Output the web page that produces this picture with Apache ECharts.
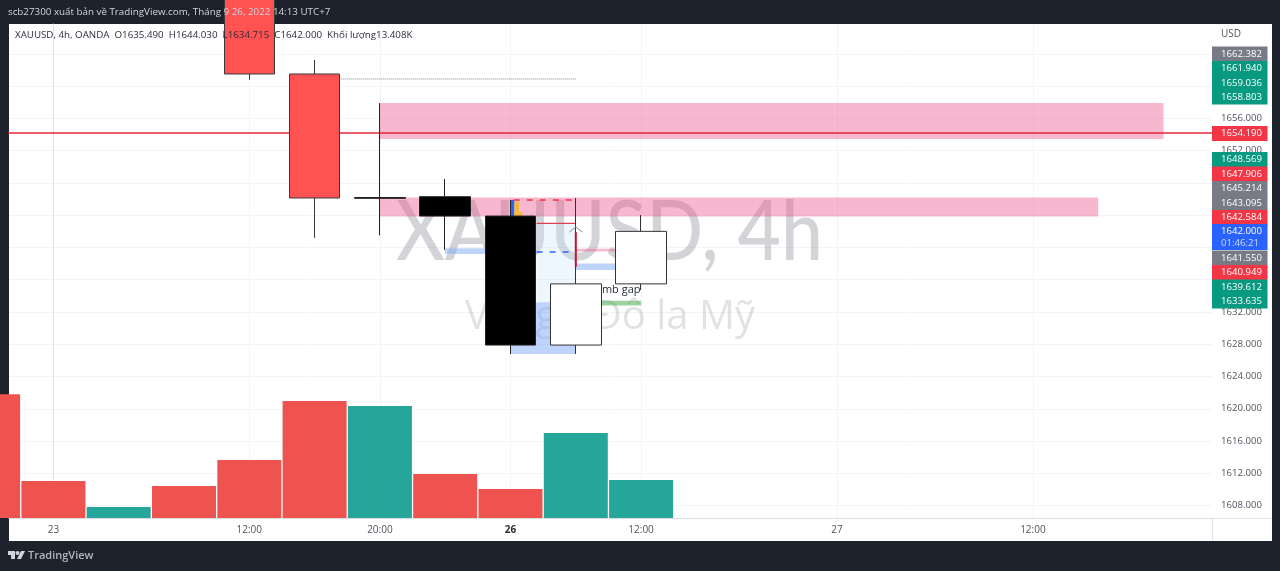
<!DOCTYPE html>
<html><head><meta charset="utf-8">
<style>html,body{margin:0;padding:0;background:#1e222d;overflow:hidden}
#panel{position:absolute;left:9px;top:24px;width:1263px;height:517px;background:#fff}
#c{position:absolute;left:0;top:0;width:1280px;height:571px}</style>
<script src="https://cdn.jsdelivr.net/npm/echarts@6/dist/echarts.min.js"></script>
</head><body><div id="panel"></div><div id="c"></div>
<script>
// ---- data ----
const barIndex = [3, 4, 5, 6, 7, 8, 9];
const opens  = [1672.0, 1661.52, 1646.2, 1646.3, 1643.9, 1627.9, 1635.49];
const closes = [1661.52, 1646.14, 1646.1, 1643.9, 1627.9, 1635.49, 1642.0];
const lows   = [1660.8, 1641.18, 1641.5, 1639.7, 1626.8, 1626.8, 1634.715];
const highs  = [1673.0, 1663.26, 1657.9, 1648.5, 1645.9, 1646.14, 1644.03];
const volumeIndex = [-1, 0, 1, 2, 3, 4, 5, 6, 7, 8, 9];
const volumes = [43.7, 13.05, 3.9, 11.3, 20.5, 41.3, 39.5, 15.5, 10.2, 30.0, 13.408];
const volumeRising = [false, false, true, false, false, false, true, false, false, true, true];
const priceTicks = [1608, 1612, 1616, 1620, 1624, 1628, 1632, 1636, 1640, 1644, 1648, 1652, 1656, 1660, 1664];
const timeTickIndex = [0, 3, 5, 7, 9, 12, 15];
const timeTickLabels = ['23', '12:00', '20:00', '26', '12:00', '27', '12:00'];
const zoneStart = [5, 5, 6, 7.4, 7, 8, 8, 8.38, 7, 7.06, 7.06];
const zoneEnd   = [17, 16, 7, 8, 8, 8.6, 8.6, 9, 7.06, 7.13, 7.18];
const zoneTop   = [1657.92, 1646.2, 1639.9, 1643.0, 1633.2, 1639.85, 1638.0, 1633.4, 1645.9, 1645.7, 1644.4];
const zoneBottom= [1653.46, 1643.85, 1639.2, 1633.2, 1626.8, 1639.5, 1637.2, 1632.8, 1643.9, 1643.9, 1643.9];
const zoneKind  = ['pink', 'pink', 'blue', 'pale', 'blue', 'pink', 'blue', 'green', 'solidBlue', 'orange', 'orange'];
const lastPrice = 1654.19;
const tagTexts = ['1662.382','1661.940','1659.036','1658.803','1654.190','1648.569','1647.906','1645.214','1643.095','1642.584','1642.000','1641.550','1640.949','1639.612','1633.635'];
const tagKinds = ['gray','green','green','green','red','green','red','gray','gray','red','blue','gray','red','green','green'];
const countdownText = '01:46:21';
const legendText = 'XAUUSD, 4h, OANDA  O1635.490  H1644.030  L1634.715  C1642.000  Khối lượng13.408K';
const headerText = 'scb27300 xuất bản về TradingView.com, Tháng 9 26, 2022 14:13 UTC+7';

// ---- layout and style ----
const tagRowY = [54, 68.5, 83, 97, 133.5, 159.5, 174, 188.5, 203, 217.5, 231.5, 258, 272.5, 287, 301];
const font = '"Open Sans", "Noto Sans", sans-serif';
const palette = {pink:'rgba(235,77,135,0.4)', blue:'rgba(120,165,245,0.48)', pale:'rgba(200,228,248,0.3)', green:'rgba(76,175,80,0.55)', orange:'#f5b93a', solidBlue:'#2962FF',
  gray:'#787B86', red:'#F23645', tagGreen:'#089981', tagBlue:'#2962FF'};
const tagColor = {gray:palette.gray, green:palette.tagGreen, red:palette.red, blue:palette.tagBlue};

const chart = echarts.init(document.getElementById('c'), null, {renderer:'canvas'});
const candleRow = i => [barIndex[i], opens[i], closes[i], lows[i], highs[i]];
const allRows = barIndex.map((_, i) => candleRow(i));

const zoneData = zoneStart.map((s, i) => [s, zoneEnd[i], zoneTop[i], zoneBottom[i], i]);
function renderZone(params, api) {
  const a = api.coord([api.value(0), api.value(2)]);
  const b = api.coord([api.value(1), api.value(3)]);
  const kind = zoneKind[api.value(4)];
  return {type:'rect', shape:{x:a[0], y:a[1], width:b[0]-a[0], height:b[1]-a[1]}, style:{fill:palette[kind]}};
}
function thinLine(name, pts, color, width, type, z) {
  return {type:'line', name, data:pts, symbol:'none', z, silent:true, animation:false,
    lineStyle:{color, width, type}, clip:true};
}
const graphicEls = [
  {type:'text', z:1, silent:true, originX:609.5, originY:233, scaleY:1.12,
   style:{x:609.5, y:233, text:'XAUUSD, 4h', font:'500 75px Lato, '+font, fill:'rgba(120,123,134,0.33)', textAlign:'center', textVerticalAlign:'middle'}},
  {type:'text', z:1, silent:true, style:{x:610, y:318, text:'Vàng / Đô la Mỹ', font:'40px '+font, fill:'rgba(120,123,134,0.22)', textAlign:'center', textVerticalAlign:'middle'}},
  {type:'text', z:20, silent:true, style:{x:15, y:35, text:legendText, font:'9.75px '+font, fill:'#2a2e39', textVerticalAlign:'middle'}},
  {type:'text', z:20, silent:true, style:{x:8, y:12, text:headerText, font:'9.8px '+font, fill:'#d1d4dc', textVerticalAlign:'middle'}},
  {type:'text', z:20, silent:true, style:{x:1221, y:34, text:'USD', font:'10px '+font, fill:'#50535e', textVerticalAlign:'middle'}},
  {type:'text', z:20, silent:true, style:{x:28, y:555.5, text:'TradingView', font:'600 11px '+font, fill:'#b2b5be', textVerticalAlign:'middle'}},
  {type:'polygon', z:20, silent:true, shape:{points:[[8,551],[15,551],[15,559],[11,559],[11,555],[8,555]]}, style:{fill:'#d1d4dc'}},
  {type:'circle', z:20, silent:true, shape:{cx:17.5, cy:553, r:2}, style:{fill:'#d1d4dc'}},
  {type:'polygon', z:20, silent:true, shape:{points:[[21,551],[25,551],[21,559],[17,559]]}, style:{fill:'#d1d4dc'}},
  {type:'line', z:5, silent:true, shape:{x1:1212.5, y1:518, x2:1212.5, y2:541}, style:{stroke:'#e0e3eb', lineWidth:1}},
  {type:'line', z:5, silent:true, shape:{x1:1212, y1:518.5, x2:1272, y2:518.5}, style:{stroke:'#e0e3eb', lineWidth:1}}
];
tagTexts.forEach((t, i) => {
  const y = tagRowY[i], kind = tagKinds[i];
  const isBlue = kind === 'blue';
  graphicEls.push({type:'rect', z:10, silent:true,
    shape:{x:1212, y:y-7.5, width:55.5, height:isBlue ? 26 : 15}, style:{fill:tagColor[kind]}});
  graphicEls.push({type:'text', z:11, silent:true,
    style:{x:1221, y, text:t, font:'500 9.6px '+font, fill:'#fff', textVerticalAlign:'middle'}});
  if (isBlue) graphicEls.push({type:'text', z:11, silent:true,
    style:{x:1221, y:y+12, text:countdownText, font:'500 9.6px '+font, fill:'#cfdcff', textVerticalAlign:'middle'}});
});

chart.setOption({
  animation:false,
  backgroundColor:'transparent',
  grid:{left:9, right:68, top:24, bottom:53, containLabel:false},
  xAxis:{type:'value', min:-0.680, max:17.743,
    axisLine:{show:true, onZero:false, lineStyle:{color:'#d8dbe3'}},
    axisTick:{show:false, customValues:timeTickIndex},
    splitLine:{show:true, lineStyle:{color:'#f3f4f8', width:1}},
    axisLabel:{customValues:timeTickIndex, margin:7, color:'#50535e', fontSize:10, fontFamily:font,
      formatter:v => { const l = timeTickLabels[timeTickIndex.indexOf(v)]; return l === '26' ? '{b|26}' : l; },
      rich:{b:{fontWeight:'bold', fontSize:10, color:'#2a2e39', fontFamily:font}}}},
  yAxis:[
    {type:'value', position:'right', min:1606.45, max:1667.72,
     axisLine:{show:true, lineStyle:{color:'#e0e3eb'}},
     axisTick:{show:false, customValues:priceTicks},
     splitLine:{show:true, lineStyle:{color:'#f3f4f8', width:1}},
     axisLabel:{customValues:priceTicks, margin:9, color:'#50535e', fontSize:9.6, fontFamily:font, formatter:v => v.toFixed(3)}},
    {type:'value', min:0, max:174.3, show:false, splitLine:{show:false}}
  ],
  graphic:{elements:graphicEls},
  series:[
    {type:'bar', name:'Khối lượng', yAxisIndex:1, z:2, barWidth:64, silent:true,
     data:volumeIndex.map((x, i) => [x, volumes[i]]),
     itemStyle:{color:p => volumeRising[p.dataIndex] ? '#26A69A' : '#EF5350'}},
    {type:'custom', name:'Vùng', z:3, silent:true, renderItem:renderZone, data:zoneData,
     encode:{x:[0,1], y:[2,3]}, clip:true},
    {type:'custom', name:'Nhãn', z:3, silent:true, data:[[8.4, 1634.75]],
     encode:{x:0, y:1},
     renderItem:(p, api) => { const c = api.coord([api.value(0), api.value(1)]);
       return {type:'text', style:{x:c[0], y:c[1], text:'mb gap', font:'11px '+font, fill:'#2a2e39', textVerticalAlign:'middle'}}; }},
    thinLine('Giá', [[-1, lastPrice],[18, lastPrice]], '#e0283a', 1.5, 'solid', 4),
    thinLine('Đỉnh', [[4.4, 1660.9],[8, 1660.9]], '#888', 1, 'dotted', 4),
    thinLine('Đỏ', [[7.4, 1643],[8, 1643]], '#d9434f', 1.3, 'solid', 4),
    thinLine('Đỏ đứt', [[7.05, 1645.9],[8, 1645.9]], '#F23645', 1.5, [6,7], 4),
    thinLine('Xanh đứt', [[7.4, 1639.44],[8, 1639.44]], '#2962FF', 1.5, [6,7], 4),
    thinLine('Đỏ dọc', [[8, 1641.9],[8, 1637.6]], '#c8102a', 2, 'solid', 6),
    thinLine('Dấu', [[7.9, 1641.9],[8, 1642.55],[8.1, 1641.9]], '#8a8d96', 1, 'solid', 6),
    {type:'candlestick', name:'XAUUSD đỏ', z:5, silent:true, barWidth:51, data:allRows.slice(0,2),
     itemStyle:{color:'#FF5252', color0:'#FF5252', borderColor:'#3a3a3a', borderColor0:'#3a3a3a', borderWidth:1}},
    {type:'candlestick', name:'XAUUSD', z:5, silent:true, barWidth:51, data:allRows.slice(2),
     itemStyle:{color:'#ffffff', color0:'#000000', borderColor:'#333333', borderColor0:'#222222', borderWidth:1}}
  ]
});
</script></body></html>
